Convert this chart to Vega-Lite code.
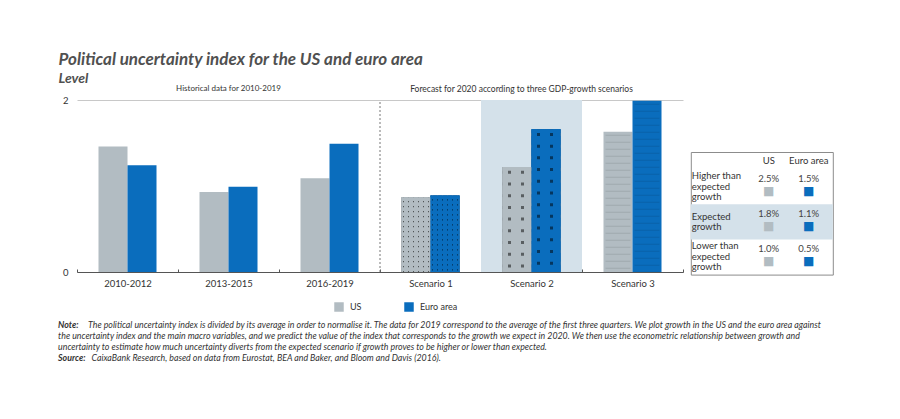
{
  "$schema": "https://vega.github.io/schema/vega-lite/v6.json",
  "background": "white",
  "padding": {"left": 58, "top": 51, "right": 5, "bottom": 5},
  "config": {"font": "Lato", "view": {"stroke": null}},
  "datasets": {
    "bars": [
      {"cat": "2010-2012", "series": "US", "value": 1.46},
      {"cat": "2010-2012", "series": "Euro area", "value": 1.24},
      {"cat": "2013-2015", "series": "US", "value": 0.93},
      {"cat": "2013-2015", "series": "Euro area", "value": 0.99},
      {"cat": "2016-2019", "series": "US", "value": 1.09},
      {"cat": "2016-2019", "series": "Euro area", "value": 1.49},
      {"cat": "Scenario 1", "series": "US", "value": 0.87},
      {"cat": "Scenario 1", "series": "Euro area", "value": 0.89},
      {"cat": "Scenario 2", "series": "US", "value": 1.22},
      {"cat": "Scenario 2", "series": "Euro area", "value": 1.66},
      {"cat": "Scenario 3", "series": "US", "value": 1.63},
      {"cat": "Scenario 3", "series": "Euro area", "value": 1.99}
    ],
    "hist": [{"cat": "2013-2015", "label": "Historical data for 2010-2019"}],
    "fcst": [{"cat": "Scenario 2", "label": "Forecast for 2020 according to three GDP-growth scenarios"}],
    "divider": [{"cat": "Scenario 1"}],
    "highlight": [{"cat": "Scenario 2"}],
    "tableRows": [
      {"row": "Higher", "col": "label", "lines": 3, "label": "Higher than\nexpected\ngrowth"},
      {"row": "Expected", "col": "label", "lines": 2, "label": "Expected\ngrowth"},
      {"row": "Lower", "col": "label", "lines": 3, "label": "Lower than\nexpected\ngrowth"}
    ],
    "tableCells": [
      {"row": "Higher", "col": "US", "value": "2.5%"},
      {"row": "Higher", "col": "Euro area", "value": "1.5%"},
      {"row": "Expected", "col": "US", "value": "1.8%"},
      {"row": "Expected", "col": "Euro area", "value": "1.1%"},
      {"row": "Lower", "col": "US", "value": "1.0%"},
      {"row": "Lower", "col": "Euro area", "value": "0.5%"}
    ],
    "tableHead": [{"col": "US"}, {"col": "Euro area"}],
    "notes": [
      {"line": 0, "col": "a", "prefix": "Note:", "body": "The political uncertainty index is divided by its average in order to normalise it. The data for 2019 correspond to the average of the first three quarters. We plot growth in the US and the euro area against"},
      {"line": 1, "col": "a", "prefix": "", "body": "the uncertainty index and the main macro variables, and we predict the value of the index that corresponds to the growth we expect in 2020. We then use the econometric relationship between growth and"},
      {"line": 2, "col": "a", "prefix": "", "body": "uncertainty to estimate how much uncertainty diverts from the expected scenario if growth proves to be higher or lower than expected."},
      {"line": 3, "col": "a", "prefix": "Source:", "body": "CaixaBank Research, based on data from Eurostat, BEA and Baker, and Bloom and Davis (2016)."}
    ]
  },
  "title": {
    "text": "Political uncertainty index for the US and euro area",
    "subtitle": "Level",
    "anchor": "start",
    "frame": "bounds",
    "dx": 0.5,
    "offset": -2,
    "font": "Lato",
    "fontSize": 17,
    "fontStyle": "italic",
    "fontWeight": "bold",
    "color": "#505050",
    "subtitleFont": "Lato",
    "subtitleFontSize": 14,
    "subtitleFontStyle": "italic",
    "subtitleFontWeight": "bold",
    "subtitleColor": "#505050",
    "subtitlePadding": 3
  },
  "spacing": 32,
  "vconcat": [
    {
      "spacing": 5.8,
      "hconcat": [
        {
          "width": 606,
          "height": 172,
          "encoding": {
            "x": {
              "field": "cat",
              "type": "nominal",
              "scale": {"type": "band", "domain": ["2010-2012", "2013-2015", "2016-2019", "Scenario 1", "Scenario 2", "Scenario 3"], "paddingInner": 0, "paddingOuter": 0},
              "axis": {"title": null, "labelAngle": 0, "labelFontSize": 9.5, "labelColor": "#333", "labelPadding": 9, "domainColor": "#555", "tickColor": "#555", "tickBand": "extent", "tickSize": -3}
            }
          },
          "layer": [
            {
              "data": {"name": "highlight"},
              "mark": {"type": "bar", "color": "#d4e1ea"},
              "encoding": {
                "y": {"datum": 2, "type": "quantitative", "title": null},
                "y2": {"datum": 0}
              }
            },
            {
              "data": {"name": "divider"},
              "mark": {"type": "rule", "color": "#777", "strokeDash": [2, 2], "strokeWidth": 1},
              "encoding": {
                "x": {"field": "cat", "type": "nominal", "bandPosition": 0},
                "y": {"datum": 0, "type": "quantitative", "title": null},
                "y2": {"datum": 2}
              }
            },
            {
              "data": {"name": "bars"},
              "mark": {"type": "bar"},
              "encoding": {
                "xOffset": {"field": "series", "type": "nominal", "scale": {"domain": ["US", "Euro area"], "paddingInner": 0, "paddingOuter": 0.741}},
                "y": {
                  "field": "value",
                  "type": "quantitative",
                  "scale": {"domain": [0, 2]},
                  "axis": {"title": null, "values": [0, 1, 2], "format": "d", "grid": true, "gridColor": "#c8c8c8", "domain": false, "ticks": false, "tickSize": 0, "labelPadding": 9, "labelFontSize": 9.5, "labelColor": "#333"}
                },
                "color": {
                  "field": "series",
                  "type": "nominal",
                  "scale": {"domain": ["US", "Euro area"], "range": ["#b2bcc2", "#0a6dbd"]},
                  "legend": {"orient": "none", "legendX": 257, "legendY": 202, "direction": "horizontal", "title": null, "symbolType": "square", "symbolSize": 90, "symbolStrokeWidth": 0, "labelFontSize": 9, "labelColor": "#333", "columnPadding": 42, "labelOffset": 6}
                }
              }
            },
            {
              "data": {"name": "bars"},
              "transform": [{"filter": "datum.cat === 'Scenario 1'"}],
              "mark": {"type": "bar", "color": "#000000", "opacity": 0.55},
              "encoding": {"xOffset": {"field": "series", "type": "nominal"}, "y": {"field": "value", "type": "quantitative"}}
            },
            {
              "data": {"name": "bars"},
              "transform": [{"filter": "datum.cat === 'Scenario 2'"}],
              "mark": {"type": "bar", "color": "#000000", "opacity": 0.5},
              "encoding": {"xOffset": {"field": "series", "type": "nominal"}, "y": {"field": "value", "type": "quantitative"}}
            },
            {
              "data": {"name": "bars"},
              "transform": [{"filter": "datum.cat === 'Scenario 1'"}],
              "mark": {"type": "rule", "strokeWidth": 29, "strokeDash": [3.7, 1.3]},
              "encoding": {
                "xOffset": {"field": "series", "type": "nominal"},
                "y": {"field": "value", "type": "quantitative"},
                "y2": {"datum": 0},
                "stroke": {"field": "series", "type": "nominal", "scale": {"domain": ["US", "Euro area"], "range": ["#b2bcc2", "#0a6dbd"]}, "legend": null}
              }
            },
            {
              "data": {"name": "bars"},
              "transform": [{"filter": "datum.cat === 'Scenario 2'"}],
              "mark": {"type": "rule", "strokeWidth": 29, "strokeDash": [8.7, 3], "strokeDashOffset": 5},
              "encoding": {
                "xOffset": {"field": "series", "type": "nominal"},
                "y": {"field": "value", "type": "quantitative"},
                "y2": {"datum": 0},
                "stroke": {"field": "series", "type": "nominal", "scale": {"domain": ["US", "Euro area"], "range": ["#b2bcc2", "#0a6dbd"]}, "legend": null}
              }
            },
            {
              "data": {"name": "bars"},
              "transform": [{"filter": "datum.cat === 'Scenario 1' && datum.series === 'US'"}],
              "mark": {"type": "bar", "color": {"gradient": "linear", "x1": 0, "y1": 0, "x2": 1, "y2": 0, "stops": [
                {"offset": 0, "color": "#b2bcc2"}, {"offset": 0.0517, "color": "#b2bcc2"}, {"offset": 0.0517, "color": "rgba(0,0,0,0)"}, {"offset": 0.0966, "color": "rgba(0,0,0,0)"},
                {"offset": 0.0966, "color": "#b2bcc2"}, {"offset": 0.2241, "color": "#b2bcc2"}, {"offset": 0.2241, "color": "rgba(0,0,0,0)"}, {"offset": 0.269, "color": "rgba(0,0,0,0)"},
                {"offset": 0.269, "color": "#b2bcc2"}, {"offset": 0.3966, "color": "#b2bcc2"}, {"offset": 0.3966, "color": "rgba(0,0,0,0)"}, {"offset": 0.4414, "color": "rgba(0,0,0,0)"},
                {"offset": 0.4414, "color": "#b2bcc2"}, {"offset": 0.569, "color": "#b2bcc2"}, {"offset": 0.569, "color": "rgba(0,0,0,0)"}, {"offset": 0.6138, "color": "rgba(0,0,0,0)"},
                {"offset": 0.6138, "color": "#b2bcc2"}, {"offset": 0.7414, "color": "#b2bcc2"}, {"offset": 0.7414, "color": "rgba(0,0,0,0)"}, {"offset": 0.7862, "color": "rgba(0,0,0,0)"},
                {"offset": 0.7862, "color": "#b2bcc2"}, {"offset": 0.9138, "color": "#b2bcc2"}, {"offset": 0.9138, "color": "rgba(0,0,0,0)"}, {"offset": 0.9586, "color": "rgba(0,0,0,0)"},
                {"offset": 0.9586, "color": "#b2bcc2"}, {"offset": 1, "color": "#b2bcc2"}]}},
              "encoding": {"xOffset": {"field": "series", "type": "nominal"}, "y": {"field": "value", "type": "quantitative"}}
            },
            {
              "data": {"name": "bars"},
              "transform": [{"filter": "datum.cat === 'Scenario 1' && datum.series === 'Euro area'"}],
              "mark": {"type": "bar", "color": {"gradient": "linear", "x1": 0, "y1": 0, "x2": 1, "y2": 0, "stops": [
                {"offset": 0, "color": "#0a6dbd"}, {"offset": 0.0517, "color": "#0a6dbd"}, {"offset": 0.0517, "color": "rgba(0,0,0,0)"}, {"offset": 0.0966, "color": "rgba(0,0,0,0)"},
                {"offset": 0.0966, "color": "#0a6dbd"}, {"offset": 0.2241, "color": "#0a6dbd"}, {"offset": 0.2241, "color": "rgba(0,0,0,0)"}, {"offset": 0.269, "color": "rgba(0,0,0,0)"},
                {"offset": 0.269, "color": "#0a6dbd"}, {"offset": 0.3966, "color": "#0a6dbd"}, {"offset": 0.3966, "color": "rgba(0,0,0,0)"}, {"offset": 0.4414, "color": "rgba(0,0,0,0)"},
                {"offset": 0.4414, "color": "#0a6dbd"}, {"offset": 0.569, "color": "#0a6dbd"}, {"offset": 0.569, "color": "rgba(0,0,0,0)"}, {"offset": 0.6138, "color": "rgba(0,0,0,0)"},
                {"offset": 0.6138, "color": "#0a6dbd"}, {"offset": 0.7414, "color": "#0a6dbd"}, {"offset": 0.7414, "color": "rgba(0,0,0,0)"}, {"offset": 0.7862, "color": "rgba(0,0,0,0)"},
                {"offset": 0.7862, "color": "#0a6dbd"}, {"offset": 0.9138, "color": "#0a6dbd"}, {"offset": 0.9138, "color": "rgba(0,0,0,0)"}, {"offset": 0.9586, "color": "rgba(0,0,0,0)"},
                {"offset": 0.9586, "color": "#0a6dbd"}, {"offset": 1, "color": "#0a6dbd"}]}},
              "encoding": {"xOffset": {"field": "series", "type": "nominal"}, "y": {"field": "value", "type": "quantitative"}}
            },
            {
              "data": {"name": "bars"},
              "transform": [{"filter": "datum.cat === 'Scenario 2' && datum.series === 'US'"}],
              "mark": {"type": "bar", "color": {"gradient": "linear", "x1": 0, "y1": 0, "x2": 1, "y2": 0, "stops": [
                {"offset": 0, "color": "#b2bcc2"}, {"offset": 0.2, "color": "#b2bcc2"}, {"offset": 0.2, "color": "rgba(0,0,0,0)"}, {"offset": 0.303, "color": "rgba(0,0,0,0)"},
                {"offset": 0.303, "color": "#b2bcc2"}, {"offset": 0.648, "color": "#b2bcc2"}, {"offset": 0.648, "color": "rgba(0,0,0,0)"}, {"offset": 0.751, "color": "rgba(0,0,0,0)"},
                {"offset": 0.751, "color": "#b2bcc2"}, {"offset": 1, "color": "#b2bcc2"}]}},
              "encoding": {"xOffset": {"field": "series", "type": "nominal"}, "y": {"field": "value", "type": "quantitative"}}
            },
            {
              "data": {"name": "bars"},
              "transform": [{"filter": "datum.cat === 'Scenario 2' && datum.series === 'Euro area'"}],
              "mark": {"type": "bar", "color": {"gradient": "linear", "x1": 0, "y1": 0, "x2": 1, "y2": 0, "stops": [
                {"offset": 0, "color": "#0a6dbd"}, {"offset": 0.2, "color": "#0a6dbd"}, {"offset": 0.2, "color": "rgba(0,0,0,0)"}, {"offset": 0.303, "color": "rgba(0,0,0,0)"},
                {"offset": 0.303, "color": "#0a6dbd"}, {"offset": 0.648, "color": "#0a6dbd"}, {"offset": 0.648, "color": "rgba(0,0,0,0)"}, {"offset": 0.751, "color": "rgba(0,0,0,0)"},
                {"offset": 0.751, "color": "#0a6dbd"}, {"offset": 1, "color": "#0a6dbd"}]}},
              "encoding": {"xOffset": {"field": "series", "type": "nominal"}, "y": {"field": "value", "type": "quantitative"}}
            },
            {
              "data": {"name": "bars"},
              "transform": [{"filter": "datum.cat === 'Scenario 3'"}],
              "mark": {"type": "rule", "color": "#000000", "opacity": 0.1, "strokeWidth": 25, "strokeDash": [1, 6], "strokeDashOffset": 4},
              "encoding": {"xOffset": {"field": "series", "type": "nominal"}, "y": {"field": "value", "type": "quantitative"}, "y2": {"datum": 0}}
            },
            {
              "data": {"name": "hist"},
              "mark": {"type": "text", "fontSize": 8, "color": "#333", "dy": -11},
              "encoding": {
                "y": {"datum": 2, "type": "quantitative", "title": null},
                "text": {"field": "label"}
              }
            },
            {
              "data": {"name": "fcst"},
              "mark": {"type": "text", "fontSize": 8.5, "color": "#333", "dy": -11, "dx": -10},
              "encoding": {
                "y": {"datum": 2, "type": "quantitative", "title": null},
                "text": {"field": "label"}
              }
            }
          ]
        },
        {
          "spacing": 0,
          "vconcat": [
            {
              "width": 142,
              "height": 51,
              "data": {"values": []},
              "mark": "text"
            },
            {
              "width": 142,
              "height": 122.6,
              "view": {"stroke": "#8c8c8c", "strokeWidth": 1},
              "encoding": {
                "x": {"field": "col", "type": "nominal", "scale": {"type": "band", "domain": ["label", "US", "Euro area"], "paddingInner": 0, "paddingOuter": 0.275, "align": 0.818}, "axis": null},
                "y": {"field": "row", "type": "nominal", "scale": {"type": "band", "domain": ["Higher", "Expected", "Lower"], "paddingInner": 0, "paddingOuter": 0.241, "align": 1}, "axis": null}
              },
              "layer": [
                {
                  "data": {"name": "tableRows"},
                  "transform": [{"filter": "datum.row === 'Expected'"}],
                  "mark": {"type": "bar", "color": "#d4e1ea"},
                  "encoding": {"x": null}
                },
                {
                  "data": {"name": "tableRows"},
                  "transform": [{"filter": "datum.lines === 3"}],
                  "mark": {"type": "text", "align": "left", "lineBreak": "\n", "lineHeight": 10.5, "fontSize": 9.5, "color": "#333", "dx": -37, "dy": -10.5},
                  "encoding": {"text": {"field": "label"}}
                },
                {
                  "data": {"name": "tableRows"},
                  "transform": [{"filter": "datum.lines === 2"}],
                  "mark": {"type": "text", "align": "left", "lineBreak": "\n", "lineHeight": 10.5, "fontSize": 9.5, "color": "#333", "dx": -37, "dy": -5.25},
                  "encoding": {"text": {"field": "label"}}
                },
                {
                  "data": {"name": "tableCells"},
                  "mark": {"type": "text", "fontSize": 9.5, "color": "#444", "dy": -7.5},
                  "encoding": {"text": {"field": "value"}}
                },
                {
                  "data": {"name": "tableCells"},
                  "mark": {"type": "text", "text": "■", "fontSize": 12, "font": "DejaVu Sans", "dy": 4},
                  "encoding": {
                    "color": {"field": "col", "type": "nominal", "scale": {"domain": ["US", "Euro area"], "range": ["#b2bcc2", "#0a6dbd"]}, "legend": null}
                  }
                },
                {
                  "data": {"name": "tableHead"},
                  "mark": {"type": "text", "fontSize": 9.5, "color": "#333", "dy": -26},
                  "encoding": {
                    "y": {"datum": "Higher", "type": "nominal"},
                    "text": {"field": "col"}
                  }
                }
              ]
            }
          ]
        }
      ]
    },
    {
      "width": 780,
      "height": 43.6,
      "data": {"name": "notes"},
      "encoding": {
        "x": {"field": "col", "type": "nominal", "scale": {"type": "point", "domain": ["a", "b"], "padding": 0}, "axis": null},
        "y": {"field": "line", "type": "ordinal", "scale": {"type": "band", "paddingInner": 0, "paddingOuter": 0}, "axis": null}
      },
      "layer": [
        {
          "transform": [{"filter": "datum.prefix !== ''"}],
          "mark": {"type": "text", "align": "left", "fontSize": 8.8, "fontStyle": "italic", "fontWeight": "bold", "color": "#333", "dx": -18.9},
          "encoding": {"text": {"field": "prefix"}}
        },
        {
          "transform": [{"filter": "datum.line === 0"}],
          "mark": {"type": "text", "align": "left", "fontSize": 8.8, "fontStyle": "italic", "color": "#333", "dx": 11},
          "encoding": {"text": {"field": "body"}}
        },
        {
          "transform": [{"filter": "datum.line === 1 || datum.line === 2"}],
          "mark": {"type": "text", "align": "left", "fontSize": 8.8, "fontStyle": "italic", "color": "#333", "dx": -18.9},
          "encoding": {"text": {"field": "body"}}
        },
        {
          "transform": [{"filter": "datum.line === 3"}],
          "mark": {"type": "text", "align": "left", "fontSize": 8.8, "fontStyle": "italic", "color": "#333", "dx": 14.5},
          "encoding": {"text": {"field": "body"}}
        }
      ]
    }
  ]
}
